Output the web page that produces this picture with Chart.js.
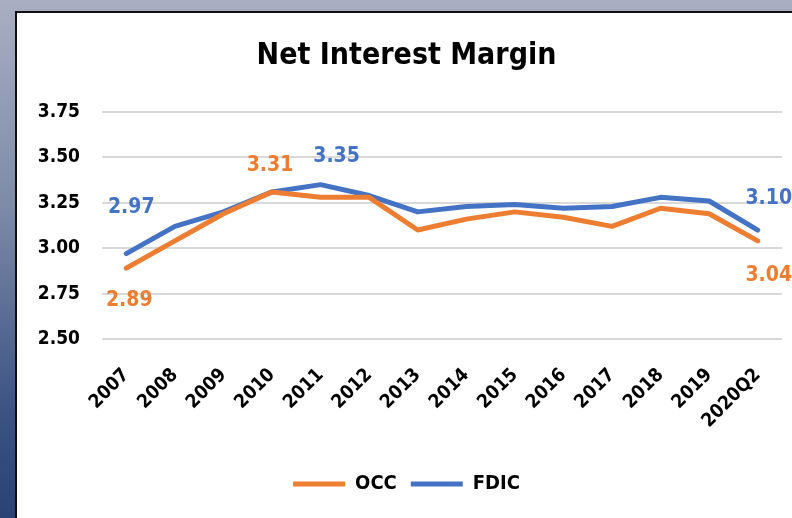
<!DOCTYPE html>
<html>
<head>
<meta charset="utf-8">
<script src="https://cdn.jsdelivr.net/npm/chart.js@4/dist/chart.umd.min.js"></script>
<style>
  html, body { margin: 0; padding: 0; }
  body {
    width: 792px; height: 518px; overflow: hidden;
    background: linear-gradient(to bottom, #a9aec2 0%, #7d8aa8 40%, #3b5283 80%, #2a4274 100%);
    position: relative;
  }
  #panel {
    position: absolute; left: 15px; top: 11px; width: 777px; height: 507px;
    border-left: 2px solid #111; border-top: 2px solid #111;
    background: #fff; box-sizing: border-box;
  }
  #wrap { position: absolute; left: 0; top: 0; width: 775px; height: 505px; }
</style>
</head>
<body>
<div id="panel"><div id="wrap"><canvas id="c" width="775" height="505"></canvas></div></div>
<script>
const categories = ["2007","2008","2009","2010","2011","2012","2013","2014","2015","2016","2017","2018","2019","2020Q2"];
const occValues  = [2.89, 3.04, 3.19, 3.31, 3.28, 3.28, 3.10, 3.16, 3.20, 3.17, 3.12, 3.22, 3.19, 3.04];
const fdicValues = [2.97, 3.12, 3.20, 3.31, 3.35, 3.29, 3.20, 3.23, 3.24, 3.22, 3.23, 3.28, 3.26, 3.10];
const yTickValues = [2.50, 2.75, 3.00, 3.25, 3.50, 3.75];
const occLabelIdx  = [0, 3, 13];
const fdicLabelIdx = [0, 4, 13];

const FONT = "'DejaVu Sans Condensed', 'DejaVu Sans', sans-serif";
const ORANGE = "#ED7D31";
const BLUE = "#4472C4";

// label offsets (presentation only) keyed by dataset then index
const labelOffsets = [
  {0: [3, 32], 3: [-2, -26], 13: [11, 35]},
  {0: [5, -46], 4: [16, -28], 13: [11, -31]}
];
const labelIdx = [occLabelIdx, fdicLabelIdx];

const labelPlugin = {
  id: 'pointLabels',
  afterDatasetsDraw(chart) {
    const ctx = chart.ctx;
    chart.data.datasets.forEach((ds, di) => {
      const meta = chart.getDatasetMeta(di);
      labelIdx[di].forEach(i => {
        const el = meta.data[i];
        const off = labelOffsets[di][i] || [0, 0];
        ctx.save();
        ctx.font = "bold 21px " + FONT;
        ctx.fillStyle = ds.borderColor;
        ctx.textAlign = 'center';
        ctx.textBaseline = 'middle';
        ctx.fillText(ds.data[i].toFixed(2), el.x + off[0], el.y + off[1]);
        ctx.restore();
      });
    });
  }
};

new Chart(document.getElementById('c'), {
  type: 'line',
  data: {
    labels: categories,
    datasets: [
      { label: 'OCC', data: occValues, borderColor: ORANGE, backgroundColor: ORANGE,
        borderWidth: 5, pointRadius: 0, tension: 0, borderCapStyle: 'round', borderJoinStyle: 'round' },
      { label: 'FDIC', data: fdicValues, borderColor: BLUE, backgroundColor: BLUE,
        borderWidth: 5, pointRadius: 0, tension: 0, borderCapStyle: 'round', borderJoinStyle: 'round' }
    ]
  },
  options: {
    responsive: false,
    animation: false,
    devicePixelRatio: 1,
    layout: { padding: { left: 14, right: 10, top: 0, bottom: 14 } },
    plugins: {
      title: {
        display: true, text: 'Net Interest Margin', color: '#000',
        font: { family: FONT, size: 30, weight: 'bold' },
        padding: { top: 25, bottom: 38 }
      },
      legend: {
        position: 'bottom',
        labels: {
          usePointStyle: true, pointStyle: 'line', pointStyleWidth: 52, boxHeight: 5,
          color: '#000', font: { family: FONT, size: 20, weight: 'bold' }, padding: 14
        }
      },
      tooltip: { enabled: false }
    },
    scales: {
      x: {
        offset: true,
        grid: { display: false, drawTicks: false },
        border: { display: false },
        ticks: {
          color: '#000', font: { family: FONT, size: 19, weight: 'bold' },
          maxRotation: 45, minRotation: 45, autoSkip: false, padding: 25
        },
        afterFit(scale) { scale.height = 121; scale.paddingRight = 0; scale.paddingLeft = 0; }
      },
      y: {
        min: 2.5, max: 3.75,
        afterBuildTicks(scale) { scale.ticks = yTickValues.map(v => ({ value: v })); },
        grid: { color: '#d9d9d9', lineWidth: 2, drawTicks: false },
        border: { display: false },
        ticks: {
          color: '#000', font: { family: FONT, size: 19, weight: 'bold' }, padding: 22,
          callback: v => Number(v).toFixed(2)
        },
        afterFit(scale) { scale.width = 71; }
      }
    }
  },
  plugins: [labelPlugin]
});
</script>
</body>
</html>
